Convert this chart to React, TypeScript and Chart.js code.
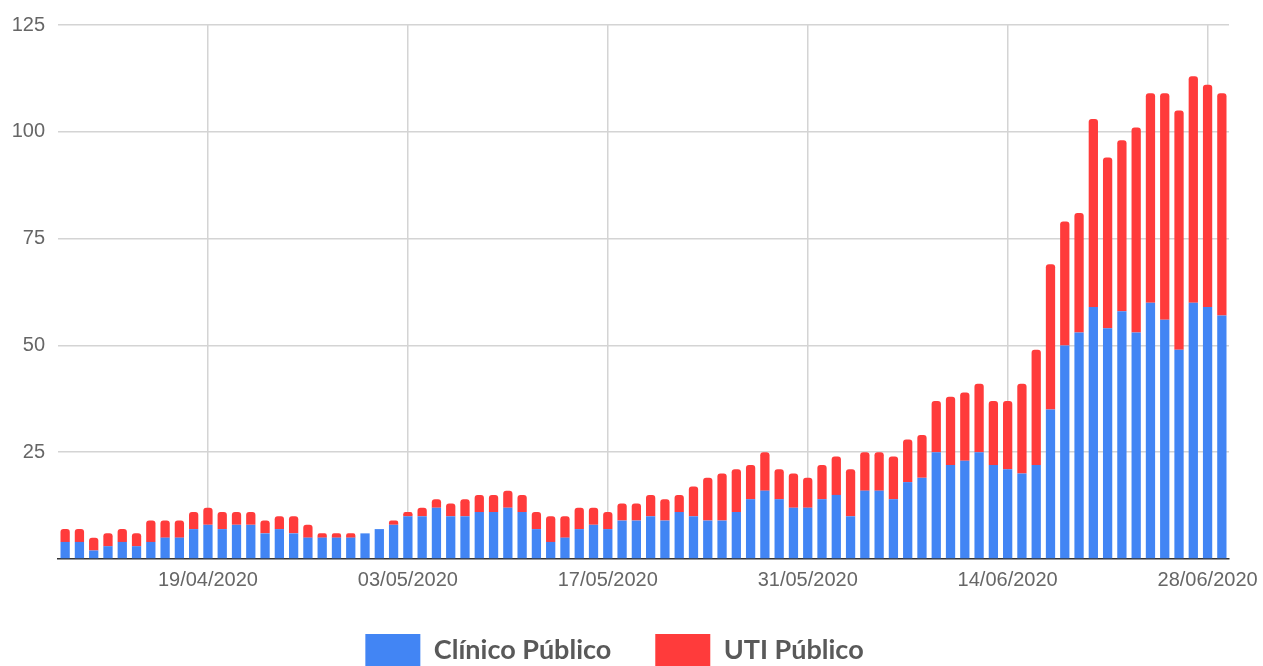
import React, { useEffect, useRef } from 'react';
import { Chart, registerables } from 'chart.js';

Chart.register(...registerables);

const categories = [
  '09/04/2020', '10/04/2020', '11/04/2020', '12/04/2020', '13/04/2020', '14/04/2020', '15/04/2020',
  '16/04/2020', '17/04/2020', '18/04/2020', '19/04/2020', '20/04/2020', '21/04/2020', '22/04/2020',
  '23/04/2020', '24/04/2020', '25/04/2020', '26/04/2020', '27/04/2020', '28/04/2020', '29/04/2020',
  '30/04/2020', '01/05/2020', '02/05/2020', '03/05/2020', '04/05/2020', '05/05/2020', '06/05/2020',
  '07/05/2020', '08/05/2020', '09/05/2020', '10/05/2020', '11/05/2020', '12/05/2020', '13/05/2020',
  '14/05/2020', '15/05/2020', '16/05/2020', '17/05/2020', '18/05/2020', '19/05/2020', '20/05/2020',
  '21/05/2020', '22/05/2020', '23/05/2020', '24/05/2020', '25/05/2020', '26/05/2020', '27/05/2020',
  '28/05/2020', '29/05/2020', '30/05/2020', '31/05/2020', '01/06/2020', '02/06/2020', '03/06/2020',
  '04/06/2020', '05/06/2020', '06/06/2020', '07/06/2020', '08/06/2020', '09/06/2020', '10/06/2020',
  '11/06/2020', '12/06/2020', '13/06/2020', '14/06/2020', '15/06/2020', '16/06/2020', '17/06/2020',
  '18/06/2020', '19/06/2020', '20/06/2020', '21/06/2020', '22/06/2020', '23/06/2020', '24/06/2020',
  '25/06/2020', '26/06/2020', '27/06/2020', '28/06/2020', '29/06/2020',
];

const clinicoPublico = [
  4, 4, 2, 3, 4, 3, 4, 5, 5, 7, 8, 7, 8, 8, 6, 7, 6, 5, 5, 5, 5,
  6, 7, 8, 10, 10, 12, 10, 10, 11, 11, 12, 11, 7, 4, 5, 7, 8, 7, 9, 9, 10,
  9, 11, 10, 9, 9, 11, 14, 16, 14, 12, 12, 14, 15, 10, 16, 16, 14, 18, 19, 25,
  22, 23, 25, 22, 21, 20, 22, 35, 50, 53, 59, 54, 58, 53, 60, 56, 49, 60, 59, 57,
];

const utiPublico = [
  3, 3, 3, 3, 3, 3, 5, 4, 4, 4, 4, 4, 3, 3, 3, 3, 4, 3, 1, 1, 1,
  0, 0, 1, 1, 2, 2, 3, 4, 4, 4, 4, 4, 4, 6, 5, 5, 4, 4, 4, 4, 5,
  5, 4, 7, 10, 11, 10, 8, 9, 7, 8, 7, 8, 9, 11, 9, 9, 10, 10, 10, 12,
  16, 16, 16, 15, 16, 21, 27, 34, 29, 28, 44, 40, 40, 48, 49, 53, 56, 53, 52, 52,
];

const shownDates = ['19/04/2020', '03/05/2020', '17/05/2020', '31/05/2020', '14/06/2020', '28/06/2020'];

const yMax = 125;
const yStep = 25;

const seriesNames = ['Clínico Público', 'UTI Público'];
const seriesColors = ['#4285f4', '#ff3b3b'];

export default function App() {
  const ref = useRef<HTMLCanvasElement>(null);

  useEffect(() => {
    if (!ref.current) return;
    const axisFont = { family: "'Liberation Sans', Arial, sans-serif", size: 20 };
    const chart = new Chart(ref.current, {
      type: 'bar',
      data: {
        labels: categories,
        datasets: [
          {
            label: seriesNames[0],
            data: clinicoPublico,
            backgroundColor: seriesColors[0],
            borderWidth: 0,
            borderRadius: 0,
            barPercentage: 0.65,
            categoryPercentage: 1,
          },
          {
            label: seriesNames[1],
            data: utiPublico,
            backgroundColor: seriesColors[1],
            borderWidth: 0,
            borderRadius: { topLeft: 3, topRight: 3, bottomLeft: 0, bottomRight: 0 },
            borderSkipped: 'start',
            barPercentage: 0.65,
            categoryPercentage: 1,
          },
        ],
      },
      options: {
        animation: false,
        responsive: false,
        devicePixelRatio: 1,
        layout: { padding: { top: 22, right: 34, left: 0, bottom: 0 } },
        plugins: {
          tooltip: { enabled: false },
          legend: {
            position: 'bottom',
            labels: {
              boxWidth: 55,
              boxHeight: 32,
              padding: 44,
              color: '#595959',
              font: { family: "Lato, 'Open Sans', sans-serif", size: 27, weight: 'bold' },
            },
          },
        },
        scales: {
          x: {
            stacked: true,
            offset: true,
            afterFit: (scale: any) => {
              scale.height = 31;
            },
            grid: {
              offset: false,
              drawTicks: false,
              lineWidth: 1.5,
              color: (ctx: any) =>
                shownDates.includes(categories[ctx.index]) ? '#d4d4d4' : 'rgba(0,0,0,0)',
            },
            border: { display: true, color: '#333333', width: 1.5 },
            ticks: {
              autoSkip: false,
              maxRotation: 0,
              minRotation: 0,
              padding: 9,
              color: '#666666',
              font: axisFont,
              callback: (_v: any, i: number) => (shownDates.includes(categories[i]) ? categories[i] : ''),
            },
          },
          y: {
            stacked: true,
            min: 0,
            max: yMax,
            afterFit: (scale: any) => {
              scale.width = 58;
            },
            grid: {
              drawTicks: false,
              lineWidth: 1.5,
              color: (ctx: any) => (ctx.tick && ctx.tick.value === 0 ? 'rgba(0,0,0,0)' : '#d4d4d4'),
            },
            border: { display: false },
            ticks: {
              stepSize: yStep,
              padding: 13,
              color: '#666666',
              font: axisFont,
              callback: (v: any) => (Number(v) === 0 ? '' : String(v)),
            },
          },
        },
      },
    });
    return () => chart.destroy();
  }, []);

  return (
    <div style={{ position: 'absolute', left: 0, top: 0, width: 1263, height: 666, overflow: 'hidden', background: '#fff' }}>
      <canvas ref={ref} width={1263} height={676} style={{ display: 'block' }} />
    </div>
  );
}
